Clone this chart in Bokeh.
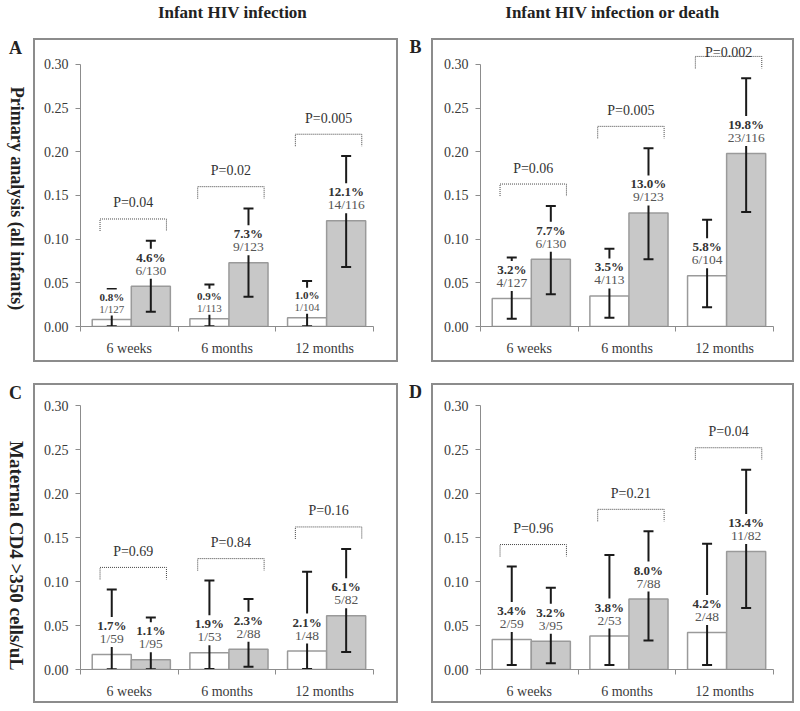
import math
from bokeh.plotting import figure
from bokeh.models import Range1d, FixedTicker, NumeralTickFormatter, Spacer
from bokeh.layouts import column, row
from bokeh.core.properties import value
from bokeh.embed import file_html
from bokeh.resources import INLINE

# ---------------- data ----------------
categories = ["6 weeks", "6 months", "12 months"]
col_titles = ["Infant HIV infection", "Infant HIV infection or death"]
row_titles = ["Primary analysis (all infants)", "Maternal CD4 >350 cells/uL"]
panel_letters = ["A", "B", "C", "D"]

# Panel A
a_white = [0.008, 0.009, 0.010]
a_white_lo = [0.0002, 0.0002, 0.0002]
a_white_hi = [0.043, 0.048, 0.052]
a_gray = [0.046, 0.073, 0.121]
a_gray_lo = [0.017, 0.034, 0.068]
a_gray_hi = [0.098, 0.135, 0.195]
a_white_pct = ["0.8%", "0.9%", "1.0%"]
a_white_n = ["1/127", "1/113", "1/104"]
a_gray_pct = ["4.6%", "7.3%", "12.1%"]
a_gray_n = ["6/130", "9/123", "14/116"]
a_p = ["P=0.04", "P=0.02", "P=0.005"]

# Panel B
b_white = [0.032, 0.035, 0.058]
b_white_lo = [0.009, 0.010, 0.022]
b_white_hi = [0.079, 0.089, 0.122]
b_gray = [0.077, 0.130, 0.198]
b_gray_lo = [0.037, 0.077, 0.131]
b_gray_hi = [0.138, 0.204, 0.284]
b_white_pct = ["3.2%", "3.5%", "5.8%"]
b_white_n = ["4/127", "4/113", "6/104"]
b_gray_pct = ["7.7%", "13.0%", "19.8%"]
b_gray_n = ["6/130", "9/123", "23/116"]
b_p = ["P=0.06", "P=0.005", "P=0.002"]

# Panel C
c_white = [0.017, 0.019, 0.021]
c_white_lo = [0.0004, 0.0005, 0.0005]
c_white_hi = [0.091, 0.101, 0.111]
c_gray = [0.011, 0.023, 0.061]
c_gray_lo = [0.0003, 0.003, 0.020]
c_gray_hi = [0.059, 0.080, 0.137]
c_white_pct = ["1.7%", "1.9%", "2.1%"]
c_white_n = ["1/59", "1/53", "1/48"]
c_gray_pct = ["1.1%", "2.3%", "6.1%"]
c_gray_n = ["1/95", "2/88", "5/82"]
c_p = ["P=0.69", "P=0.84", "P=0.16"]

# Panel D
d_white = [0.034, 0.038, 0.042]
d_white_lo = [0.005, 0.005, 0.005]
d_white_hi = [0.117, 0.130, 0.143]
d_gray = [0.032, 0.080, 0.134]
d_gray_lo = [0.007, 0.033, 0.070]
d_gray_hi = [0.093, 0.157, 0.227]
d_white_pct = ["3.4%", "3.8%", "4.2%"]
d_white_n = ["2/59", "2/53", "2/48"]
d_gray_pct = ["3.2%", "8.0%", "13.4%"]
d_gray_n = ["3/95", "7/88", "11/82"]
d_p = ["P=0.96", "P=0.21", "P=0.04"]

y_ticks = [0.0, 0.05, 0.10, 0.15, 0.20, 0.25, 0.30]

# ---------------- style ----------------
FONT = "Liberation Serif"
SERIF = value(FONT)
AXIS_GRAY = "#8c8c8c"
BOX_GRAY = "#8c8c8c"
TXT = "#333333"
TXT2 = "#555555"
BAR_LINE = "#9a9a9a"
GRAY_FILL = "#c8c8c8"
ERR = "#1a1a1a"


def make_panel(width, height, left, right, bottom, px_per_unit,
               white, wlo, whi, gray, glo, ghi, wpct, wn, gpct, gn, pvals,
               small_white=False):
    y_end = (height - bottom) / px_per_unit
    p = figure(width=width, height=height, output_backend="svg", toolbar_location=None,
               x_range=Range1d(0, len(categories)), y_range=Range1d(0, y_end),
               min_border_left=left, min_border_right=right,
               min_border_bottom=bottom, min_border_top=0,
               styles={"outline": "2px solid " + BOX_GRAY, "outline-offset": "-2px"})
    p.border_fill_color = None
    p.background_fill_color = None
    p.outline_line_color = None
    p.grid.visible = False

    centers = [i + 0.5 for i in range(len(categories))]
    xw = [c - 0.18 for c in centers]
    xg = [c + 0.22 for c in centers]

    # bars
    p.vbar(x=xw, top=white, width=0.4, bottom=0, fill_color="white",
           line_color=BAR_LINE, line_width=1.5)
    p.vbar(x=xg, top=gray, width=0.4, bottom=0, fill_color=GRAY_FILL,
           line_color=BAR_LINE, line_width=1.5)

    # error bars
    for xs, lo, hi in ((xw, wlo, whi), (xg, glo, ghi)):
        p.segment(x0=xs, y0=lo, x1=xs, y1=hi, line_color=ERR, line_width=2)
        p.scatter(x=xs, y=hi, marker="dash", size=10, line_color=ERR, line_width=2)
        p.scatter(x=xs, y=lo, marker="dash", size=10, line_color=ERR, line_width=2)

    # value labels (white background hides the whisker behind)
    for xs, tops, pct, n, small in ((xw, white, wpct, wn, small_white),
                                    (xg, gray, gpct, gn, False)):
        fs_pct = "11px" if small else "13px"
        fs_n = "11px" if small else "13.5px"
        off_n = -11 if small else -16
        off_pct = -23 if small else -29
        p.text(x=xs, y=tops, text=n, y_offset=off_n, text_font=SERIF,
               text_font_size=fs_n, text_color=TXT2, text_align="center",
               text_baseline="middle", background_fill_color="white", padding=1)
        p.text(x=xs, y=tops, text=pct, y_offset=off_pct, text_font=SERIF,
               text_font_style="bold", text_font_size=fs_pct, text_color=TXT,
               text_align="center", text_baseline="middle",
               background_fill_color="white", padding=1)

    # significance brackets
    leg = 12.0 / px_per_unit
    bxs, bys, tx, ty = [], [], [], []
    for i, c in enumerate(centers):
        br = max(whi[i], ghi[i]) + 0.025
        x0, x1 = c - 0.30, c + 0.38
        bxs.append([x0, x0, x1, x1])
        bys.append([br - leg, br, br, br - leg])
        tx.append(c + 0.04)
        ty.append(min(br + 16.0 / px_per_unit, y_end - 14.0 / px_per_unit))
    p.multi_line(xs=bxs, ys=bys, line_color="#444444", line_width=1, line_dash="1 1")
    p.text(x=tx, y=ty, text=pvals, text_font=SERIF, text_font_size="14px",
           text_color=TXT, text_align="center", text_baseline="middle")

    # axes
    xa = p.xaxis[0]
    xa.ticker = FixedTicker(ticks=centers, minor_ticks=list(range(len(categories) + 1)))
    xa.major_label_overrides = {c: cat for c, cat in zip(centers, categories)}
    xa.major_tick_out = 0
    xa.major_tick_in = 0
    xa.minor_tick_out = 5
    xa.minor_tick_in = 0
    xa.axis_line_color = AXIS_GRAY
    xa.minor_tick_line_color = AXIS_GRAY
    xa.major_label_text_font = FONT
    xa.major_label_text_font_size = "14px"
    xa.major_label_text_color = "#3a3a3a"
    xa.major_label_standoff = 9

    ya = p.yaxis[0]
    ya.ticker = FixedTicker(ticks=y_ticks)
    ya.formatter = NumeralTickFormatter(format="0.00")
    ya.bounds = (0, 0.30)
    ya.major_tick_out = 5
    ya.major_tick_in = 0
    ya.minor_tick_line_color = None
    ya.axis_line_color = AXIS_GRAY
    ya.major_tick_line_color = AXIS_GRAY
    ya.major_label_text_font = FONT
    ya.major_label_text_font_size = "14px"
    ya.major_label_text_color = "#3a3a3a"
    ya.major_label_standoff = 7
    return p


def text_fig(width, height):
    p = figure(width=width, height=height, output_backend="svg", toolbar_location=None,
               x_range=Range1d(0, width), y_range=Range1d(height, 0),
               x_axis_location=None, y_axis_location=None, min_border=0)
    p.grid.visible = False
    p.outline_line_color = None
    p.border_fill_color = None
    p.background_fill_color = None
    return p


# ---------------- layout ----------------
W_STRIP, W_A, W_MID, W_B = 33, 365, 33, 363
H_TITLE, H_ROW1, H_GAP, H_ROW2 = 38, 324, 21, 320

title = text_fig(W_STRIP + W_A + W_MID + W_B, H_TITLE)
title.text(x=[232, 612], y=[12, 12], text=col_titles, text_font=SERIF,
           text_font_style="bold", text_font_size="17px", text_color="#222222",
           text_align="center", text_baseline="middle")


def left_strip(height, letter, label, label_y, label_size):
    s = text_fig(W_STRIP, height)
    s.text(x=[15], y=[11], text=[letter], text_font=SERIF, text_font_style="bold",
           text_font_size="18px", text_color="#222222", text_align="center",
           text_baseline="middle")
    s.text(x=[16], y=[label_y], text=[label], angle=-math.pi / 2, text_font=SERIF,
           text_font_style="bold", text_font_size=label_size, text_color="#222222",
           text_align="center", text_baseline="middle")
    return s


def mid_strip(height, letter):
    s = text_fig(W_MID, height)
    s.text(x=[17], y=[10], text=[letter], text_font=SERIF, text_font_style="bold",
           text_font_size="18px", text_color="#222222", text_align="center",
           text_baseline="middle")
    return s


pA = make_panel(W_A, H_ROW1, 47, 25, 36, 874, a_white, a_white_lo, a_white_hi,
                a_gray, a_gray_lo, a_gray_hi, a_white_pct, a_white_n, a_gray_pct,
                a_gray_n, a_p, small_white=True)
pB = make_panel(W_B, H_ROW1, 49, 21, 36, 874, b_white, b_white_lo, b_white_hi,
                b_gray, b_gray_lo, b_gray_hi, b_white_pct, b_white_n, b_gray_pct,
                b_gray_n, b_p)
pC = make_panel(W_A, H_ROW2, 47, 25, 34, 880, c_white, c_white_lo, c_white_hi,
                c_gray, c_gray_lo, c_gray_hi, c_white_pct, c_white_n, c_gray_pct,
                c_gray_n, c_p)
pD = make_panel(W_B, H_ROW2, 49, 21, 34, 880, d_white, d_white_lo, d_white_hi,
                d_gray, d_gray_lo, d_gray_hi, d_white_pct, d_white_n, d_gray_pct,
                d_gray_n, d_p)

row1 = row(left_strip(H_ROW1, panel_letters[0], row_titles[0], 180, "18px"), pA,
           mid_strip(H_ROW1, panel_letters[1]), pB)
row2 = row(left_strip(H_ROW2, panel_letters[2], row_titles[1], 193, "19px"), pC,
           mid_strip(H_ROW2, panel_letters[3]), pD)

page = column(title, row1, Spacer(width=10, height=H_GAP), row2)

open("out.html", "w").write(file_html(page, INLINE))
